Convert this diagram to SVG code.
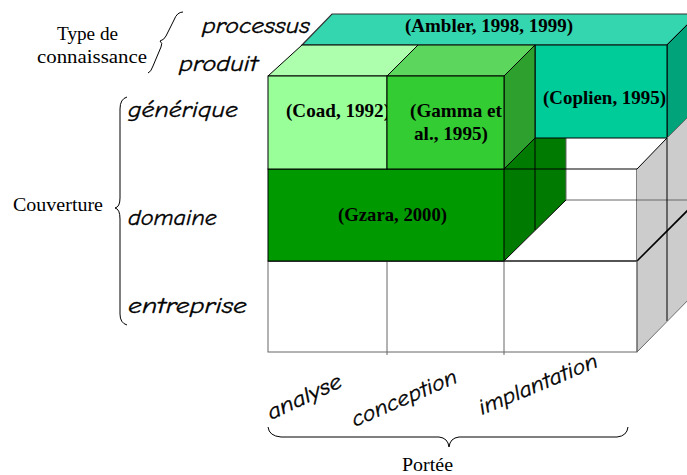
<svg xmlns="http://www.w3.org/2000/svg" width="687" height="475" viewBox="0 0 687 475">
<style>
.ln{stroke:#000;stroke-width:1;fill:none}
.gl{stroke:#666;stroke-width:1;fill:none}
.cite{font-family:"Liberation Serif","Times New Roman",serif;font-weight:bold;font-size:19px;fill:#000}
.lab{font-family:"Liberation Serif","Times New Roman",serif;font-size:18px;fill:#000}
.cs{font-family:"Comic Sans MS","Comic Neue","DejaVu Sans",sans-serif;font-style:italic;font-size:22px;fill:#000;stroke:#000;stroke-width:0.35}
.br{stroke:#000;stroke-width:1;fill:none}
</style>
<rect width="687" height="475" fill="#fff"/>

<g id="pocket">
  <polygon points="504,169 566,107 566,200 504,261" fill="#007A00"/>
  <polygon points="566,107 698,107 698,200 566,200" fill="#fff"/>
  <polygon points="504,261 637,261 698,200 566,200" fill="#fff"/>
  <line x1="566" y1="200" x2="687" y2="200" class="gl"/>
  <line x1="566" y1="107" x2="566" y2="200" class="gl"/>
  <line x1="504" y1="261" x2="566" y2="200" stroke="#000" stroke-width="1"/>
  <line x1="535" y1="138" x2="535" y2="230" class="ln"/>
  <line x1="504" y1="169" x2="637" y2="169" class="ln"/>
  <line x1="637" y1="169" x2="637" y2="261" class="ln"/>
</g>

<g id="ambler">
  <polygon points="302,45 667,45 698,14 332,14" fill="#33D6AE" stroke="#333" stroke-width="1.2"/>
  <text class="cite" x="405" y="32" textLength="168" lengthAdjust="spacingAndGlyphs">(Ambler, 1998, 1999)</text>
</g>

<g id="coplien">
  <polygon points="667,45 698,14 698,107 667,138" fill="#00A37A" stroke="#000" stroke-width="1"/>
  <rect x="535" y="45" width="132" height="93" fill="#00CC99" stroke="#000" stroke-width="1"/>
  <text class="cite" x="543" y="104" textLength="123" lengthAdjust="spacingAndGlyphs">(Coplien, 1995)</text>
</g>

<g id="droite">
  <polygon points="637,169 667,138 667,321 637,352" fill="#CCCCCC"/>
  <polygon points="667,138 698,107 698,290 667,321" fill="#CCCCCC"/>
  <line x1="637" y1="200" x2="687" y2="200" class="gl"/>
  <line x1="637" y1="169" x2="667" y2="138" class="ln"/>
  <line x1="667" y1="138" x2="667" y2="321" class="ln"/>
  <line x1="637" y1="261" x2="698" y2="200" stroke="#000" stroke-width="1.6"/>
  <line x1="637" y1="352" x2="698" y2="290" class="gl"/>
  <line x1="667" y1="138" x2="698" y2="107" class="gl"/>
</g>

<g id="entreprise">
  <rect x="268" y="261" width="369" height="91" fill="#fff" stroke="#666" stroke-width="1"/>
  <line x1="387" y1="261" x2="387" y2="355" class="gl"/>
  <line x1="504" y1="261" x2="504" y2="355" class="gl"/>
  <line x1="268" y1="261" x2="637" y2="261" stroke="#333" stroke-width="1.3"/>
  <line x1="637" y1="261" x2="637" y2="352" class="gl"/>
</g>

<g id="gzara">
  <rect x="268" y="169" width="236" height="92" fill="#009900" stroke="#000" stroke-width="1"/>
  <text class="cite" x="338" y="221" textLength="109" lengthAdjust="spacingAndGlyphs">(Gzara, 2000)</text>
</g>

<g id="coad">
  <polygon points="268,76 387,76 418,45 302,45" fill="#ADFFAD" stroke="#000" stroke-width="1"/>
  <rect x="268" y="76" width="119" height="93" fill="#99FF99" stroke="#000" stroke-width="1"/>
  <text class="cite" x="286" y="117" textLength="104" lengthAdjust="spacingAndGlyphs">(Coad, 1992)</text>
</g>

<g id="gamma">
  <polygon points="387,76 504,76 535,45 418,45" fill="#5CD65C" stroke="#000" stroke-width="1"/>
  <polygon points="504,76 535,45 535,138 504,169" fill="#2EA02E" stroke="#000" stroke-width="1"/>
  <rect x="387" y="76" width="117" height="93" fill="#33CC33" stroke="#000" stroke-width="1"/>
  <text class="cite" x="410" y="117" textLength="92" lengthAdjust="spacingAndGlyphs">(Gamma et</text>
  <text class="cite" x="414" y="140" textLength="74" lengthAdjust="spacingAndGlyphs">al., 1995)</text>
</g>

<g id="axes">
  <text class="lab" x="57" y="40" textLength="61" lengthAdjust="spacingAndGlyphs">Type de</text>
  <text class="lab" x="37" y="63" textLength="110" lengthAdjust="spacingAndGlyphs">connaissance</text>
  <text class="lab" x="13" y="211" textLength="90" lengthAdjust="spacingAndGlyphs">Couverture</text>
  <text class="lab" x="402" y="471" textLength="51" lengthAdjust="spacingAndGlyphs">Portée</text>
  <text class="cs" x="202" y="33" textLength="108" lengthAdjust="spacingAndGlyphs">processus</text>
  <text class="cs" x="179" y="71" textLength="79" lengthAdjust="spacingAndGlyphs">produit</text>
  <text class="cs" x="128" y="117" textLength="110" lengthAdjust="spacingAndGlyphs">générique</text>
  <text class="cs" x="128" y="225" textLength="89" lengthAdjust="spacingAndGlyphs">domaine</text>
  <text class="cs" x="128" y="313" textLength="119" lengthAdjust="spacingAndGlyphs">entreprise</text>
  <text class="cs" transform="translate(271,420) rotate(-25)" textLength="80" lengthAdjust="spacingAndGlyphs">analyse</text>
  <text class="cs" transform="translate(355,427) rotate(-23.5)" textLength="113" lengthAdjust="spacingAndGlyphs">conception</text>
  <text class="cs" transform="translate(482,415) rotate(-22.5)" textLength="127" lengthAdjust="spacingAndGlyphs">implantation</text>
</g>

<g id="braces">
  <path class="br" d="M183,12 Q177,12 174,20 L166,36 Q164,40 160,41 Q163,43 161,47 L153,66 Q151,72 148,73"/>
  <path class="br" d="M127,97 Q120,99 120,109 L120,198 Q120,207 115,208 Q120,209 120,219 L120,314 Q120,323 127,325"/>
  <path class="br" d="M268,427 Q269,436 281,437 L439,437 Q448,438 449,447 Q450,438 459,437 L617,437 Q627,436 628,427"/>
</g>
</svg>
